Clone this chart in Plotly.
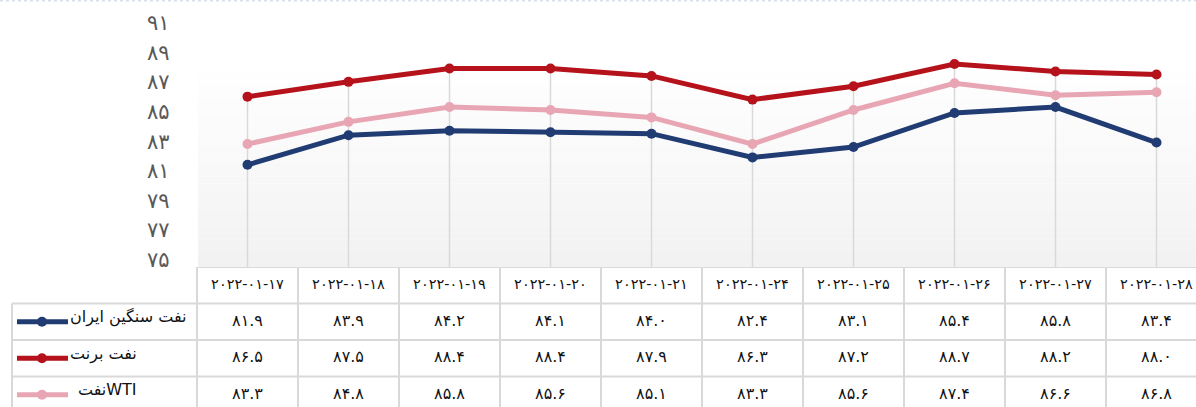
import plotly.graph_objects as go

# ---------------- data ----------------
dates = ["2022-01-17", "2022-01-18", "2022-01-19", "2022-01-20", "2022-01-21",
         "2022-01-24", "2022-01-25", "2022-01-26", "2022-01-27", "2022-01-28"]
series_names = ["نفت سنگین ایران", "نفت برنت", "نفتWTI"]
iran_heavy = [81.9, 83.9, 84.2, 84.1, 84.0, 82.4, 83.1, 85.4, 85.8, 83.4]
brent = [86.5, 87.5, 88.4, 88.4, 87.9, 86.3, 87.2, 88.7, 88.2, 88.0]
wti = [83.3, 84.8, 85.8, 85.6, 85.1, 83.3, 85.6, 87.4, 86.6, 86.8]
y_ticks = [75, 77, 79, 81, 83, 85, 87, 89, 91]

series_values = [iran_heavy, brent, wti]
colors = ["#203c72", "#b5121b", "#e8a6b4"]

FA = str.maketrans("0123456789", "۰۱۲۳۴۵۶۷۸۹")
def fa(s):
    return str(s).translate(FA)

W, H = 1196, 407
COL = 101.0                      # px per category
X0 = 247.5                       # px of first category
xr = [-X0 / COL, (W - X0) / COL]
def px2x(p):
    return (p - X0) / COL

chart_bottom, chart_top = 267, 30
ydom = [(H - chart_bottom) / H, (H - chart_top) / H]
ROW = 36.5
y2range = [-0.5 + (H - chart_bottom) / ROW, -0.5]

FONT = "DejaVu Sans, Noto Sans, sans-serif"
fig = go.Figure()
xs = list(range(len(dates)))

# drop lines from highest point to axis
dx, dy = [], []
for i in xs:
    top = max(s[i] for s in series_values)
    dx += [i, i, None]
    dy += [top, y_ticks[0], None]
fig.add_trace(go.Scatter(x=dx, y=dy, mode="lines", line=dict(color="#d9d9d9", width=1.5),
                         hoverinfo="skip", showlegend=False))

# series lines
for idx in [2, 0, 1]:
    fig.add_trace(go.Scatter(x=xs, y=series_values[idx], mode="lines+markers",
                             line=dict(color=colors[idx], width=5),
                             marker=dict(color=colors[idx], size=10),
                             name=series_names[idx], showlegend=False))

# table header dates
fig.add_trace(go.Scatter(x=xs, y=[0] * len(dates), yaxis="y2", mode="text",
                         text=[fa(d) for d in dates],
                         textfont=dict(family=FONT, size=14.5, color="#111111"),
                         showlegend=False, hoverinfo="skip"))
# table values + row labels with legend keys
label_x = [70, 70, 78]
for r, vals in enumerate(series_values, start=1):
    fig.add_trace(go.Scatter(x=xs, y=[r] * len(vals), yaxis="y2", mode="text",
                             text=[fa(f"{v:.1f}") for v in vals],
                             textfont=dict(family=FONT, size=16, color="#111111"),
                             showlegend=False, hoverinfo="skip"))
    fig.add_trace(go.Scatter(x=[px2x(17), px2x(42), px2x(68)], y=[r, r, r], yaxis="y2",
                             mode="lines", line=dict(color=colors[r - 1], width=5),
                             showlegend=False, hoverinfo="skip"))
    fig.add_trace(go.Scatter(x=[px2x(42)], y=[r], yaxis="y2", mode="markers",
                             marker=dict(color=colors[r - 1], size=10),
                             showlegend=False, hoverinfo="skip"))
    fig.add_trace(go.Scatter(x=[px2x(label_x[r - 1])], y=[r - 0.1], yaxis="y2", mode="text",
                             text=[series_names[r - 1]], textposition="middle right",
                             textfont=dict(family=FONT, size=16, color="#111111"),
                             showlegend=False, hoverinfo="skip"))

shapes = []
# gradient background of plot area
n = 30
g_top, g_bot = 58, chart_bottom
for k in range(n):
    t = k / (n - 1)
    c = int(round(255 - (255 - 242) * t))
    y_a = g_top + (g_bot - g_top) * k / n
    y_b = g_top + (g_bot - g_top) * (k + 1) / n
    shapes.append(dict(type="rect", xref="paper", yref="paper",
                       x0=198 / W, x1=1, y0=(H - y_b) / H, y1=(H - y_a) / H,
                       fillcolor=f"rgb({c},{c},{c})", line=dict(width=0), layer="below"))

border = dict(color="#d9d9d9", width=2)
left_x = px2x(12)
n_cols = len(dates)
shapes.append(dict(type="line", xref="x", yref="y2", x0=-0.5, x1=n_cols - 0.5,
                   y0=-0.5, y1=-0.5, line=border))
for r in range(len(series_values)):
    shapes.append(dict(type="line", xref="x", yref="y2", x0=left_x, x1=n_cols - 0.5,
                       y0=r + 0.5, y1=r + 0.5, line=border))
for k in range(n_cols + 1):
    shapes.append(dict(type="line", xref="x", yref="y2", x0=k - 0.5, x1=k - 0.5,
                       y0=-0.5, y1=len(series_values) + 0.5, line=border))
shapes.append(dict(type="line", xref="x", yref="y2", x0=left_x, x1=left_x,
                   y0=0.5, y1=len(series_values) + 0.5, line=border))
shapes.append(dict(type="line", xref="paper", yref="paper", x0=0, x1=1, y0=0.998, y1=0.998,
                   line=dict(color="#c5cfe0", width=1, dash="dot")))

# y tick labels (Persian digits), placed slightly above their tick values
annotations = [dict(x=198 / W, xref="paper", y=v, yref="y", text=fa(v), showarrow=False,
                    xanchor="right", yanchor="middle", xshift=-26, yshift=7,
                    font=dict(family=FONT, size=21, color="#595959"))
               for v in y_ticks]

fig.update_layout(
    width=W, height=H,
    margin=dict(l=0, r=0, t=0, b=0, autoexpand=False),
    paper_bgcolor="white", plot_bgcolor="rgba(0,0,0,0)",
    shapes=shapes, annotations=annotations,
    xaxis=dict(domain=[0, 1], range=xr, visible=False, fixedrange=True, automargin=False),
    yaxis=dict(domain=ydom, range=[y_ticks[0], y_ticks[-1]], anchor="x",
               visible=False, automargin=False),
    yaxis2=dict(domain=[0, ydom[0]], range=y2range, anchor="x", visible=False,
                automargin=False),
    showlegend=False,
)

fig.write_html("out.html", config={"displayModeBar": False},
               post_script="document.body.style.margin='0px';")
